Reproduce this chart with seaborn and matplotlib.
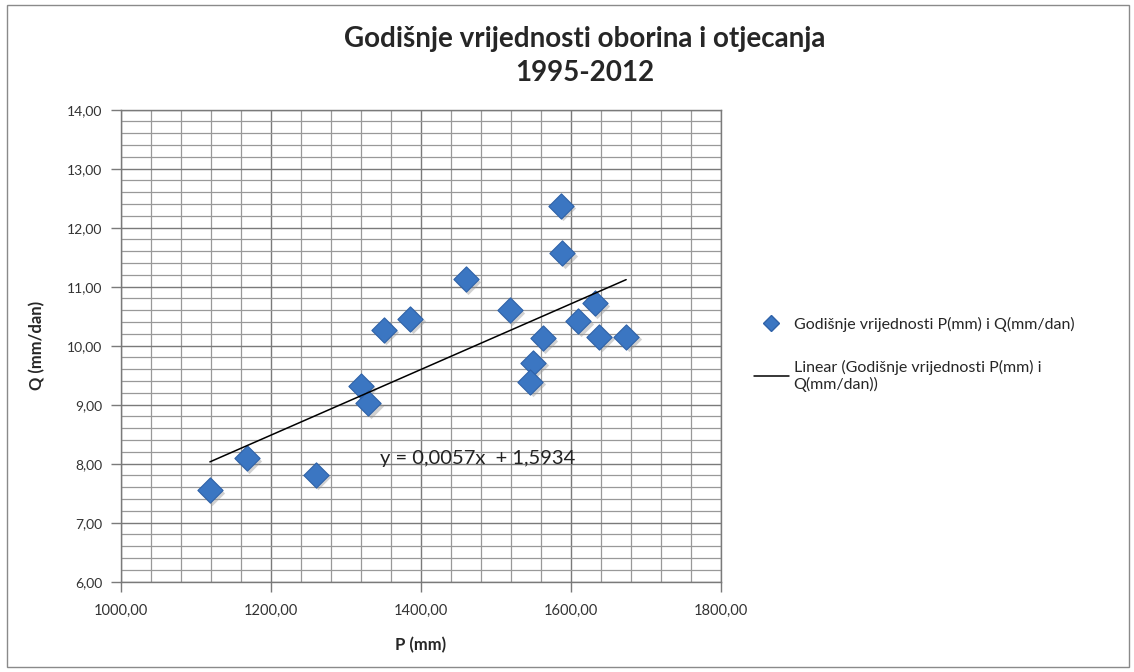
import numpy as np
import pandas as pd
import seaborn as sns
import matplotlib.pyplot as plt
from matplotlib.patches import Rectangle
from matplotlib.lines import Line2D
from matplotlib.ticker import MultipleLocator, FuncFormatter
from matplotlib.transforms import offset_copy

# annual precipitation P (mm) and runoff Q (mm/dan), 1995-2012
p_mm = [1119, 1168, 1260, 1321, 1330, 1351, 1386, 1460, 1519,
        1587, 1589, 1632, 1610, 1563, 1638, 1674, 1550, 1546]
q_mm_dan = [7.55, 8.09, 7.81, 9.31, 9.02, 10.27, 10.46, 11.13, 10.60,
            12.37, 11.57, 10.72, 10.41, 10.13, 10.15, 10.15, 9.71, 9.39]

trend_slope = 0.0057
trend_intercept = 1.5934

title = "Godišnje vrijednosti oborina i otjecanja\n1995-2012"
series_label = "Godišnje vrijednosti P(mm) i Q(mm/dan)"
trend_label = "Linear (Godišnje vrijednosti P(mm) i\nQ(mm/dan))"

df = pd.DataFrame({"P": p_mm, "Q": q_mm_dan})

sns.set_style("white")
plt.rcParams["font.family"] = ["Lato", "DejaVu Sans"]

fig = plt.figure(figsize=(11.34, 6.72), dpi=100)
ax = fig.add_axes([0.1064, 0.1344, 0.5291, 0.7024])

# outer chart border
fig.patches.append(Rectangle((0.006, 0.007), 0.99, 0.986, transform=fig.transFigure,
                             fill=False, edgecolor="#8a8a8a", linewidth=1.0))

# drop shadow under the diamonds
shadow = offset_copy(ax.transData, fig=fig, x=2.5, y=-2.5, units="dots")
ax.scatter(df["P"], df["Q"], marker="D", s=165, color="#9a9a9a", alpha=0.45,
           linewidths=0, transform=shadow, zorder=3)

sns.scatterplot(data=df, x="P", y="Q", marker="D", s=165, color="#3b76c2",
                edgecolor="#2f62a8", linewidth=0.8, ax=ax, zorder=4, legend=False)

sns.regplot(data=df, x="P", y="Q", scatter=False, ci=None, truncate=True, ax=ax,
            line_kws=dict(color="black", linewidth=1.1, zorder=5))

ax.text(1346, 8.08, f"y = {trend_slope:.4f}x  + {trend_intercept:.4f}".replace(".", ","),
        fontsize=14.5, va="center", ha="left", color="#222222", zorder=6)

ax.set_xlim(1000, 1800)
ax.set_ylim(6, 14)
ax.xaxis.set_major_locator(MultipleLocator(200))
ax.xaxis.set_minor_locator(MultipleLocator(40))
ax.yaxis.set_major_locator(MultipleLocator(1))
ax.yaxis.set_minor_locator(MultipleLocator(0.2))
comma = FuncFormatter(lambda v, pos: f"{v:.2f}".replace(".", ","))
ax.xaxis.set_major_formatter(comma)
ax.yaxis.set_major_formatter(comma)

ax.grid(which="major", color="#7a7a7a", linewidth=1.0)
ax.grid(which="minor", color="#999999", linewidth=0.9)
ax.set_axisbelow(True)
for side, sp in ax.spines.items():
    sp.set_color("#7a7a7a")
    sp.set_linewidth(1.0)

ax.tick_params(which="major", direction="out", length=7, width=1, color="#7a7a7a",
               labelcolor="#333333", pad=6, left=True, bottom=True)
ax.tick_params(axis="x", which="major", labelsize=10.5, pad=9)
ax.tick_params(axis="y", which="major", labelsize=10)
ax.tick_params(which="minor", length=0)

ax.set_xlabel("P (mm)", fontsize=12, fontweight="bold", labelpad=14)
ax.set_ylabel("Q (mm/dan)", fontsize=12, fontweight="bold", labelpad=16)

fig.text(0.516, 0.962, title, ha="center", va="top", fontsize=20, fontweight="bold",
         linespacing=1.4)

handles = [
    Line2D([], [], marker="D", linestyle="none", markersize=8, color="#3b76c2",
           markeredgecolor="#2f62a8"),
    Line2D([], [], color="black", linewidth=1.1),
]
fig.legend(handles, [series_label, trend_label], loc="upper left",
           bbox_to_anchor=(0.652, 0.55), frameon=False, fontsize=11.5,
           handlelength=2.2, handletextpad=0.3, labelspacing=1.75)

fig.savefig("out.png", dpi=100, facecolor="white")
